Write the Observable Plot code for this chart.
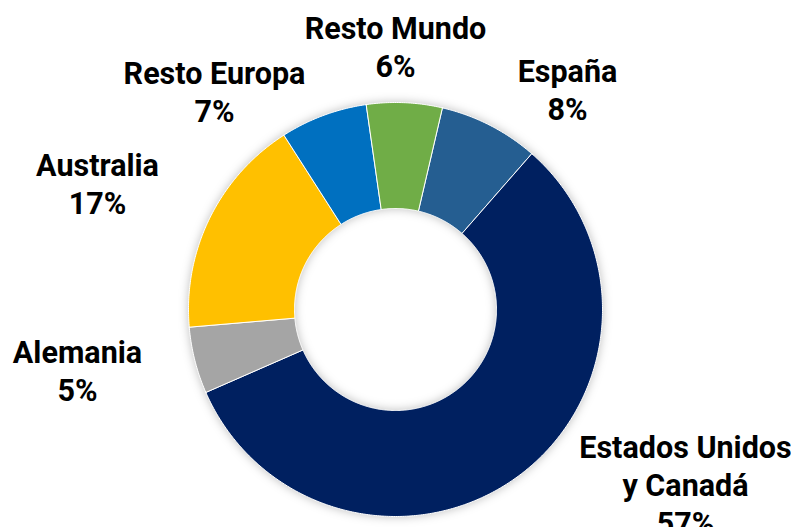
<!DOCTYPE html>
<html>
<head>
<meta charset="utf-8">
<script src="https://cdn.jsdelivr.net/npm/d3@7"></script>
<script src="https://cdn.jsdelivr.net/npm/@observablehq/plot@0.6"></script>
<style>
  html, body { margin: 0; padding: 0; background: #fff; }
  #chart { width: 791px; height: 527px; overflow: hidden; }
</style>
</head>
<body>
<div id="chart"></div>
<script>
// ---- data (clockwise order, starting at España) ----
const categories = ["España", "Estados Unidos\ny Canadá", "Alemania", "Australia", "Resto Europa", "Resto Mundo"];
const shares = [7.8, 57.0, 5.2, 17.3, 6.8, 5.9];
const colors = ["#255E91", "#002060", "#A5A5A5", "#FFC000", "#0070C0", "#70AD47"];

// ---- layout (kept apart from the data) ----
const W = 791, H = 527;
const cx = 395, cy = 309;        // donut centre, px
const rOuter = 207, rInner = 101;
const startDeg = 13.1;           // first slice starts here, clockwise from 12 o'clock
// label block centres, px
const labelX = [567, 685, 77, 97, 214, 395];
const labelY = [88, 483, 369, 182, 90, 45];
const fontSize = 30.5;

// ---- build slice outlines from the shares ----
const total = d3.sum(shares);
const slices = [];
let acc = startDeg;
categories.forEach((c, i) => {
  const a0 = acc, a1 = acc + shares[i] / total * 360;
  acc = a1;
  const n = Math.max(8, Math.ceil((a1 - a0) * 2));
  const pts = [];
  for (let k = 0; k <= n; k++) {
    const a = (a0 + (a1 - a0) * k / n) * Math.PI / 180;
    pts.push({cat: c, x: rOuter * Math.sin(a), y: rOuter * Math.cos(a)});
  }
  for (let k = n; k >= 0; k--) {
    const a = (a0 + (a1 - a0) * k / n) * Math.PI / 180;
    pts.push({cat: c, x: rInner * Math.sin(a), y: rInner * Math.cos(a)});
  }
  pts.push(pts[0]);
  slices.push(...pts);
});

const labels = categories.map((c, i) => ({
  text: c + "\n" + Math.round(shares[i]) + "%",
  x: labelX[i] - cx,
  y: cy - labelY[i]
}));

const chart = Plot.plot({
  width: W,
  height: H,
  margin: 0,
  x: {domain: [-cx, W - cx], axis: null},
  y: {domain: [cy - H, cy], axis: null},
  color: {domain: categories, range: colors},
  marks: [
    Plot.line(slices, {x: "x", y: "y", z: "cat", fill: "cat", stroke: "#ffffff", strokeWidth: 1, curve: "linear"}),
    Plot.text(labels, {
      x: "x", y: "y", text: "text",
      fontSize: fontSize, fontWeight: "bold", fill: "#000",
      lineHeight: 38 / fontSize, textAnchor: "middle"
    })
  ],
  style: {fontFamily: "Roboto, 'Noto Sans', sans-serif", background: "#fff", overflow: "hidden"}
});
const g = chart.querySelector('g[aria-label="line"]');
if (g) g.style.filter = "drop-shadow(0px 0px 5px rgba(0,0,0,0.25))";
document.getElementById("chart").appendChild(chart);
</script>
</body>
</html>
